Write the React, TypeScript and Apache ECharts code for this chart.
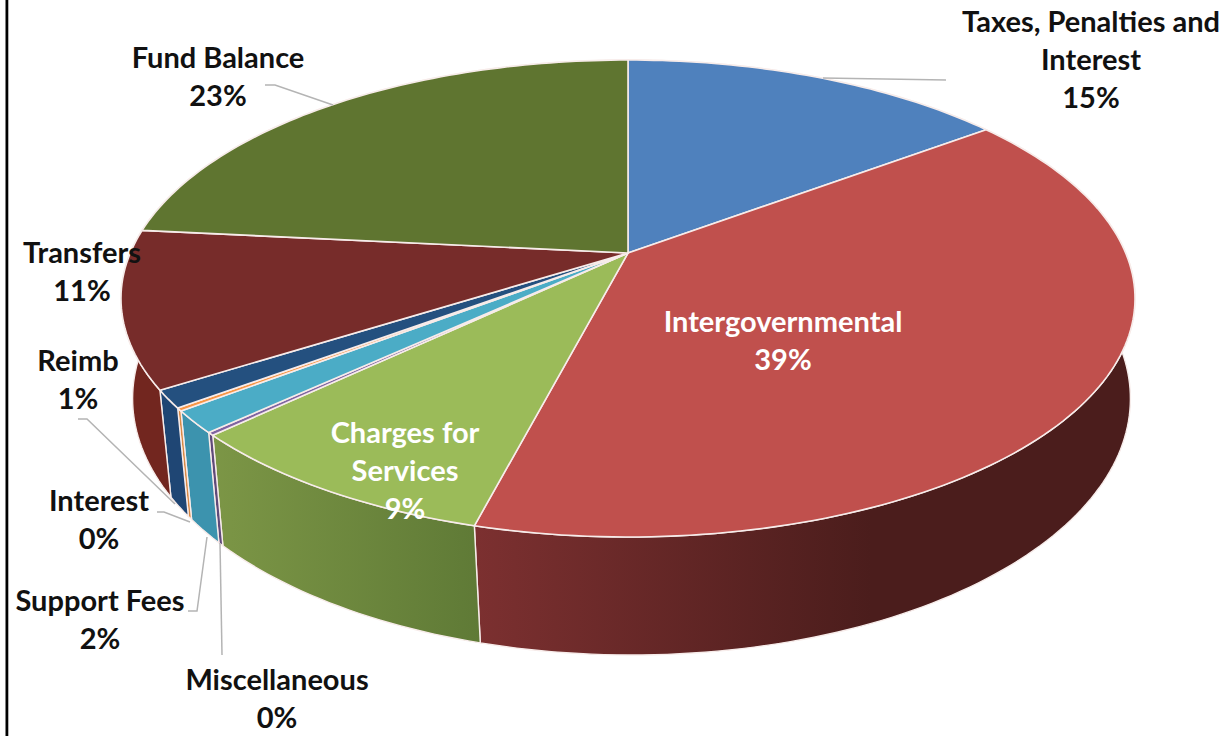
import React, { useEffect, useRef } from "react";
import * as echarts from "echarts";

const sliceNames = [
  "Taxes, Penalties and\nInterest",
  "Intergovernmental",
  "Charges for\nServices",
  "Miscellaneous",
  "Support Fees",
  "Interest",
  "Reimb",
  "Transfers",
  "Fund Balance",
];
const sliceShares = [14.8, 39.25, 8.85, 0.2, 1.5, 0.2, 1.2, 10.6, 23.4];
const topColors = ["#4f81bd", "#c0504d", "#9bbb59", "#8064a2", "#4bacc6", "#f79646", "#24507f", "#772c2a", "#5f7530"];
const wallStartColors = ["#2f4d71", "#7c3030", "#7c9646", "#5f4a7a", "#3c93ae", "#d98a45", "#1f4674", "#72261f", "#4a5c25"];
const wallEndColors = ["#2f4d71", "#4b1d1c", "#5f7a36", "#5f4a7a", "#3c93ae", "#d98a45", "#1f4674", "#72261f", "#4a5c25"];
const wallFadeStops = [1, 0.6, 1, 1, 1, 1, 1, 1, 1];
const labelColors = ["#111", "#fff", "#fff", "#111", "#111", "#111", "#111", "#111", "#111"];
const labelCenters = [
  [1091, 58], [783, 339], [405, 469], [277, 697], [100, 618], [99, 518], [78, 378], [82, 270], [218, 75],
];
const leaderLines = [
  [[946, 80], [823, 78]],
  [[78, 419], [87, 419], [175, 504]],
  [[157, 512], [164, 512], [190, 522]],
  [[188, 611], [197, 611], [207, 537]],
  [[222, 655], [220, 543]],
  [[265, 85], [275, 85], [333, 105]],
];

// Perspective model of the disc: apex position, radii and foreshortening.
const APEX_X = 628;
const APEX_Y = 253;
const RADIUS_X = 497.7;
const RADIUS_Y = 229.8;
const TILT = 0.1908;
const DEPTH_AT_FRONT = 118;
const DEPTH_SLOPE = 0.075;
const FRONT_Y = 537;
const BASE_SHIFT = 3.5;
const BASE_SHRINK = 0.984;

const rimPoint = (share: number) => {
  const a = (share / 100) * Math.PI * 2;
  const u = Math.sin(a);
  const w = Math.cos(a);
  const d = 1 + TILT * w;
  return [APEX_X + (RADIUS_X * u) / d, APEX_Y - (RADIUS_Y * w) / d];
};
const basePoint = (p: number[]) => [
  APEX_X + BASE_SHIFT + (p[0] - APEX_X) * BASE_SHRINK,
  p[1] + DEPTH_AT_FRONT + DEPTH_SLOPE * (p[1] - FRONT_Y),
];
const arcPoints = (from: number, to: number) => {
  const steps = Math.max(2, Math.ceil((to - from) * 3));
  const pts: number[][] = [];
  for (let i = 0; i <= steps; i++) pts.push(rimPoint(from + ((to - from) * i) / steps));
  return pts;
};

const RIM_STROKE = "#f7ecea";

const rows: number[][] = [];
sliceShares.reduce((start, share, i) => {
  rows.push([start, start + share, i]);
  return start + share;
}, 0);

export default function App() {
  const ref = useRef<HTMLDivElement>(null);
  useEffect(() => {
    document.body.style.margin = "0";
    document.body.style.background = "#fff";
    const chart = echarts.init(ref.current!, undefined, { renderer: "svg" });
    const fontFamily = "Lato, 'Noto Sans', sans-serif";
    chart.setOption({
      animation: false,
      backgroundColor: "#fff",
      series: [
        {
          type: "custom",
          coordinateSystem: "none",
          z: 1,
          silent: true,
          data: rows,
          renderItem: (_: unknown, api: any) => {
            const from = api.value(0);
            const to = api.value(1);
            const i = api.value(2);
            const upper = arcPoints(from, to);
            const lower = upper.map(basePoint).reverse();
            return {
              type: "polygon",
              shape: { points: [...upper, ...lower] },
              style: {
                fill: new echarts.graphic.LinearGradient(0, 0, 1, 0, [
                  { offset: 0, color: wallStartColors[i] },
                  { offset: wallFadeStops[i], color: wallEndColors[i] },
                  { offset: 1, color: wallEndColors[i] },
                ]),
                stroke: RIM_STROKE,
                lineWidth: 1.4,
                lineJoin: "round",
              },
            };
          },
        },
        {
          type: "custom",
          coordinateSystem: "none",
          z: 2,
          silent: true,
          data: rows,
          renderItem: (_: unknown, api: any) => {
            const i = api.value(2);
            return {
              type: "polygon",
              shape: { points: [[APEX_X, APEX_Y], ...arcPoints(api.value(0), api.value(1))] },
              style: { fill: topColors[i], stroke: RIM_STROKE, lineWidth: 1.6, lineJoin: "round" },
            };
          },
        },
      ],
      graphic: {
        elements: [
          {
            type: "rect",
            z: 50,
            shape: { x: 5.5, y: 0, width: 2.8, height: 736 },
            style: { fill: "#000" },
          },
          ...leaderLines.map((points) => ({
            type: "polyline",
            z: 60,
            shape: { points },
            style: { stroke: "#b4b4b4", lineWidth: 1.5, fill: "none" },
          })),
          ...sliceNames.map((name, i) => ({
            type: "text",
            z: 70,
            x: labelCenters[i][0],
            y: labelCenters[i][1],
            style: {
              text: `${name}\n${Math.round(sliceShares[i])}%`,
              fill: labelColors[i],
              font: `bold 29px ${fontFamily}`,
              lineHeight: 38,
              align: "center",
              verticalAlign: "middle",
            },
          })),
        ],
      },
    });
    return () => chart.dispose();
  }, []);
  return <div ref={ref} style={{ position: "absolute", left: 0, top: 0, width: 1231, height: 736 }} />;
}
